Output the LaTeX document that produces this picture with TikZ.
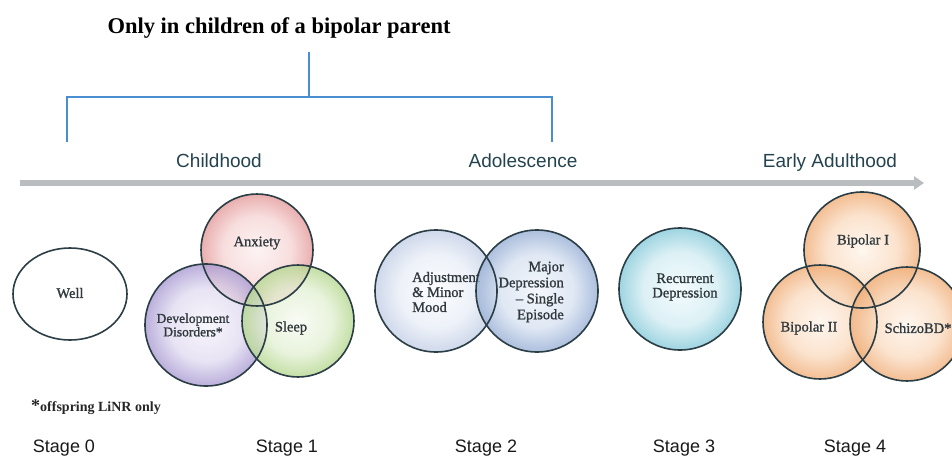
\documentclass[tikz,border=0pt]{standalone}
\usepackage{fontspec}
\setmainfont{Liberation Serif}
\newfontfamily\sansf{Liberation Sans}
\newfontfamily\circf{Liberation Serif}[FakeBold=1.2]
\usetikzlibrary{arrows.meta}
\definecolor{ringC}{HTML}{2B3D45}
\definecolor{txtC}{HTML}{30393E}
\definecolor{headC}{HTML}{24434E}
\definecolor{brC}{HTML}{4A8ED2}
\definecolor{arrC}{HTML}{B9BDBF}
% shading colours
\definecolor{anxE}{HTML}{E49A9A}\definecolor{anxM}{HTML}{F6D6D6}\definecolor{anxC}{HTML}{FCF0F0}
\definecolor{devE}{HTML}{A99BD2}\definecolor{devM}{HTML}{E2DCF1}\definecolor{devC}{HTML}{F6F4FB}
\definecolor{slpE}{HTML}{B5D78E}\definecolor{slpM}{HTML}{E3F0D4}\definecolor{slpC}{HTML}{F7FBF2}
\definecolor{adjE}{HTML}{C3CFE6}\definecolor{adjM}{HTML}{E9EEF7}\definecolor{adjC}{HTML}{FBFCFF}
\definecolor{majE}{HTML}{98AFD5}\definecolor{majM}{HTML}{D8E2F1}\definecolor{majC}{HTML}{F1F5FB}
\definecolor{recE}{HTML}{86CADA}\definecolor{recM}{HTML}{D4EDF3}\definecolor{recC}{HTML}{F1FAFC}
\definecolor{bipE}{HTML}{F0AE78}\definecolor{bipM}{HTML}{FADCC2}\definecolor{bipC}{HTML}{FEF4EA}
\pgfdeclareradialshading{shAnx}{\pgfpoint{0bp}{0bp}}{color(0bp)=(anxC); color(15bp)=(anxM); color(25bp)=(anxE); color(50bp)=(anxE)}
\pgfdeclareradialshading{shDev}{\pgfpoint{0bp}{0bp}}{color(0bp)=(devC); color(15bp)=(devM); color(25bp)=(devE); color(50bp)=(devE)}
\pgfdeclareradialshading{shSlp}{\pgfpoint{0bp}{0bp}}{color(0bp)=(slpC); color(15bp)=(slpM); color(25bp)=(slpE); color(50bp)=(slpE)}
\pgfdeclareradialshading{shAdj}{\pgfpoint{0bp}{0bp}}{color(0bp)=(adjC); color(15bp)=(adjM); color(25bp)=(adjE); color(50bp)=(adjE)}
\pgfdeclareradialshading{shMaj}{\pgfpoint{0bp}{0bp}}{color(0bp)=(majC); color(15bp)=(majM); color(25bp)=(majE); color(50bp)=(majE)}
\pgfdeclareradialshading{shRec}{\pgfpoint{0bp}{0bp}}{color(0bp)=(recC); color(15bp)=(recM); color(25bp)=(recE); color(50bp)=(recE)}
\pgfdeclareradialshading{shBip}{\pgfpoint{0bp}{0bp}}{color(0bp)=(bipC); color(15bp)=(bipM); color(25bp)=(bipE); color(50bp)=(bipE)}
\begin{document}
\begin{tikzpicture}[x=1pt,y=-1pt,
  ring/.style={draw=ringC, line width=1.6pt},
  blob/.style={fill opacity=0.8},
  circtext/.style={font=\circf\fontsize{14.5}{15}\selectfont, text=txtC, inner sep=0pt},
  period/.style={font=\sansf\fontsize{19}{19}\selectfont, text=headC, inner sep=0pt, anchor=base},
  stagelbl/.style={font=\sansf\fontsize{18}{18}\selectfont, text=black!90, inner sep=0pt, anchor=base},
  bracket/.style={draw=brC, line width=2.2pt},
  timeline/.style={draw=arrC, line width=6pt, -{Triangle[length=10pt 0 0, width=13pt 0 0]}}
]
\useasboundingbox (0,0) rectangle (952,460);

% title and bracket
\node[font=\bfseries\fontsize{22.5}{22.5}\selectfont, inner sep=0pt] (title) at (279,28) {Only in children of a bipolar parent};
\coordinate (btop) at (309,52);
\coordinate (bmid) at (309,97);
\coordinate (bl) at (67,97);
\coordinate (blb) at (67,142);
\coordinate (br) at (552,97);
\coordinate (brb) at (552,142);
\draw[bracket] (btop) -- (bmid);
\draw[bracket] (blb) -- (bl) -- (br) -- (brb);

% periods
\node[period] (child) at (219,167) {Childhood};
\node[period] (adol) at (523,167) {Adolescence};
\node[period] (early) at (830,167) {Early Adulthood};

% timeline arrow
\coordinate (tlA) at (20,183);
\coordinate (tlB) at (924,183);
\draw[timeline] (tlA) -- (tlB);

% circle centres
\coordinate (well) at (70,294);
\coordinate (anx) at (257,250);
\coordinate (dev) at (206,325);
\coordinate (slp) at (298,321);
\coordinate (adj) at (436,291);
\coordinate (maj) at (537,291);
\coordinate (rec) at (680,289);
\coordinate (bp1) at (862,250);
\coordinate (bp2) at (820,322);
\coordinate (szb) at (907,324);

% fills
\shade[blob, shading=shAnx] (anx) circle [radius=56];
\shade[blob, shading=shDev] (dev) circle [radius=61];
\shade[blob, shading=shSlp] (slp) circle [radius=56];
\shade[blob, shading=shAdj] (adj) circle [radius=61];
\node[circtext, align=left, anchor=west] (tAdj) at (412,292) {Adjustment\\\& Minor\\Mood};
\shade[blob, shading=shMaj] (maj) circle [radius=61];
\shade[blob, shading=shRec] (rec) circle [radius=61];
\shade[blob, shading=shBip] (bp1) circle [radius=58];
\shade[blob, shading=shBip] (bp2) circle [radius=57];
\shade[blob, shading=shBip] (szb) circle [radius=57];

% outlines
\draw[ring, fill=white] (well) ellipse [x radius=57, y radius=46];
\draw[ring] (anx) circle [radius=56];
\draw[ring] (dev) circle [radius=61];
\draw[ring] (slp) circle [radius=56];
\draw[ring] (adj) circle [radius=61];
\draw[ring] (maj) circle [radius=61];
\draw[ring] (rec) circle [radius=61];
\draw[ring] (bp1) circle [radius=58];
\draw[ring] (bp2) circle [radius=57];
\draw[ring] (szb) circle [radius=57];

% circle texts
\node[circtext] (tWell) at (70,293) {Well};
\node[circtext] (tAnx) at (257,243) {Anxiety};
\node[circtext, align=center, font=\circf\fontsize{13.5}{13.5}\selectfont] (tDev) at (193,325) {Development\\Disorders*};
\node[circtext] (tSlp) at (291,328) {Sleep};
\node[circtext, align=right, anchor=east, font=\circf\fontsize{14.5}{16}\selectfont] (tMaj) at (564,292) {Major\\Depression\\– Single\\Episode};
\node[circtext, align=center, font=\circf\fontsize{14.5}{14.5}\selectfont] (tRec) at (685,287) {Recurrent\\Depression};
\node[circtext] (tBp1) at (863,241) {Bipolar I};
\node[circtext] (tBp2) at (809,328) {Bipolar II};
\node[circtext] (tSzb) at (918,328) {SchizoBD*};

% footnote
\node[inner sep=0pt, anchor=base west, font=\bfseries\fontsize{14}{14}\selectfont, text=black!85] (foot) at (31,411) {{\fontsize{18}{18}\selectfont *}offspring LiNR only};

% stage labels
\node[stagelbl] (s0) at (64,452) {Stage 0};
\node[stagelbl] (s1) at (287,452) {Stage 1};
\node[stagelbl] (s2) at (486,452) {Stage 2};
\node[stagelbl] (s3) at (684,452) {Stage 3};
\node[stagelbl] (s4) at (855,452) {Stage 4};
\end{tikzpicture}
\end{document}
